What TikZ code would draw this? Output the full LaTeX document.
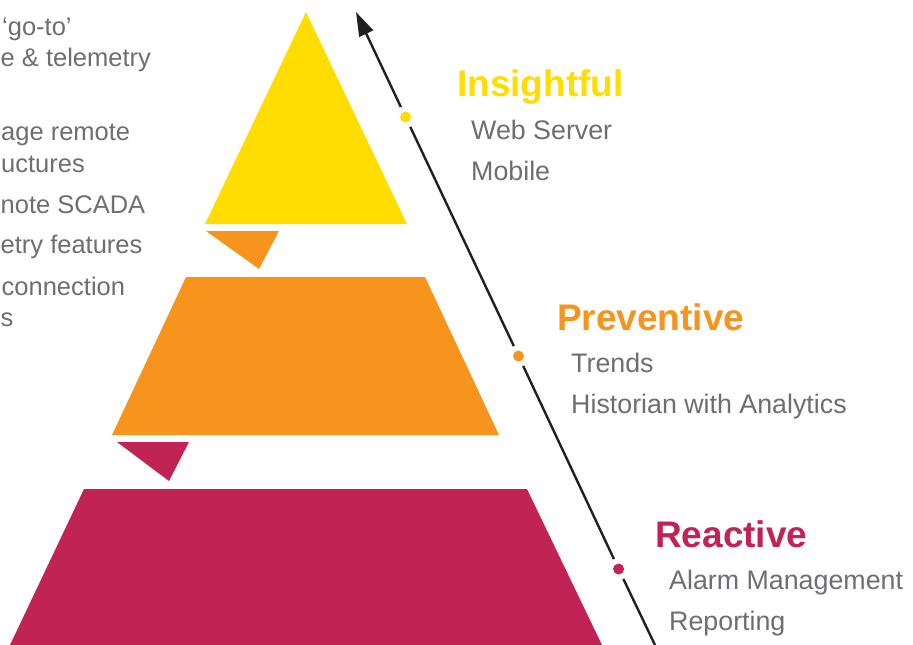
\documentclass[tikz,border=0pt]{standalone}
\usepackage{fontspec}
\setmainfont{Liberation Sans}
\usetikzlibrary{arrows.meta}
\definecolor{cyel}{HTML}{FFDD00}
\definecolor{corg}{HTML}{F7941D}
\definecolor{ccrm}{HTML}{C12354}
\definecolor{ctxt}{HTML}{6D6E71}
\definecolor{carr}{HTML}{231F20}
\tikzset{
  body/.style={anchor=base west, inner sep=0pt, text=ctxt, font=\fontsize{26.8}{31}\selectfont},
  lbody/.style={anchor=base west, inner sep=0pt, text=ctxt, font=\fontsize{25.5}{31}\selectfont},
  ttl/.style={anchor=base west, inner sep=0pt, font=\fontsize{37}{42}\bfseries\selectfont},
  dotnode/.style={circle, inner sep=0pt, minimum size=11pt, outer sep=5.5pt},
  axis/.style={draw=carr, line width=2.4pt},
}
\begin{document}
\begin{tikzpicture}[x=1pt, y=-1pt]
\useasboundingbox (0,0) rectangle (913,645);
\clip (0,0) rectangle (913,645);
% pyramid tiers
\fill[cyel] (306,12) -- (407,224) -- (205,224) -- cycle;
\fill[corg] (206,231) -- (279,231) -- (259,269) -- cycle;
\fill[corg] (186,277) -- (425,277) -- (499,435) -- (112,435) -- cycle;
\fill[ccrm] (117,442) -- (189,442) -- (169,481) -- cycle;
\fill[ccrm] (84,489) -- (527,489) -- (602,645) -- (10,645) -- cycle;
% axis
\coordinate (bot) at (655,645);
\coordinate (tip) at (356,12);
\node[dotnode, fill=cyel] (d1) at (405.6,117) {};
\node[dotnode, fill=corg] (d2) at (518.5,356) {};
\node[dotnode, fill=ccrm] (d3) at (618.6,569) {};
\draw[axis] (bot) -- (d3);
\draw[axis] (d3) -- (d2);
\draw[axis] (d2) -- (d1);
\draw[axis, -{Triangle[length=24pt, width=15pt]}] (d1) -- (tip);
% right labels
\node[ttl, text=cyel] (t1) at (457,96) {Insightful};
\node[body] (t1a) at (471,139) {Web Server};
\node[body] (t1b) at (471,180) {Mobile};
\node[ttl, text=corg] (t2) at (557,330) {Preventive};
\node[body] (t2a) at (571,372) {Trends};
\node[body] (t2b) at (571,413) {Historian with Analytics};
\node[ttl, text=ccrm] (t3) at (655,547) {Reactive};
\node[body] (t3a) at (669,589) {Alarm Management};
\node[body] (t3b) at (669,630) {Reporting};
% left text (as shown, cut by the page edge in the source)
\node[lbody] (l1) at (2,35) {‘go-to’};
\node[lbody] (l2) at (0.5,66) {e \& telemetry};
\node[lbody] (l3) at (1,140) {age remote};
\node[lbody] (l4) at (1,172) {uctures};
\node[lbody] (l5) at (0.5,213) {note SCADA};
\node[lbody] (l6) at (0.5,253) {etry features};
\node[lbody] (l7) at (1.5,295) {connection};
\node[lbody] (l8) at (0.5,326) {s};
\end{tikzpicture}
\end{document}
